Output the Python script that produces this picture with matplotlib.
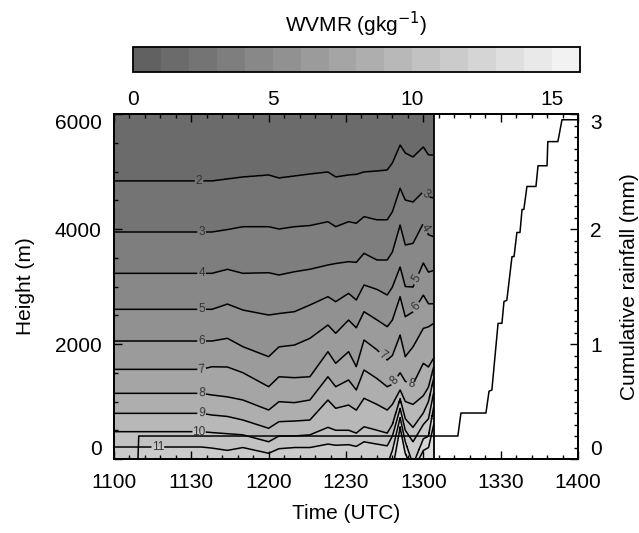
import numpy as np
import matplotlib
matplotlib.use('Agg')
import matplotlib.pyplot as plt
from matplotlib.colors import ListedColormap
from matplotlib.ticker import MultipleLocator

plt.rcParams['font.family'] = ['Liberation Sans', 'DejaVu Sans']
plt.rcParams['font.size'] = 15
plt.rcParams['axes.linewidth'] = 1.3

# time in minutes after 1100 UTC where contour heights were read
times = [0, 34, 38, 44, 50, 60, 64, 70, 76, 83, 86, 91, 94, 97, 102, 106, 108, 111, 113, 116, 120, 122, 124]

# height (m) of each WVMR isoline (g/kg)
lvl2 = [4835, 4835, 4835, 4870, 4904, 4939, 4887, 4921, 4956, 4991, 4904, 4939, 4950, 4991, 5008, 5026, 5147, 5460, 5321, 5252, 5426, 5287, 5287]
lvl3 = [3948, 3948, 3948, 3990, 4040, 4040, 4000, 4040, 4060, 4127, 4040, 4127, 4100, 4214, 4160, 4160, 4300, 4708, 4504, 4470, 4650, 4561, 4540]
lvl4 = [3229, 3229, 3229, 3299, 3229, 3240, 3200, 3257, 3300, 3374, 3400, 3431, 3420, 3577, 3461, 3461, 3600, 4069, 3722, 3751, 4099, 3900, 3866]
lvl5 = [2603, 2603, 2603, 2695, 2591, 2504, 2530, 2562, 2678, 2823, 2736, 2881, 2765, 3026, 2950, 2852, 2990, 3339, 3000, 2990, 3408, 3250, 3280]
lvl6 = [2052, 2052, 2052, 2099, 1953, 1779, 1950, 1982, 2099, 2330, 2186, 2417, 2283, 2562, 2420, 2301, 2417, 2823, 2475, 2560, 2850, 2700, 2700]
lvl7 = [1559, 1559, 1605, 1600, 1501, 1257, 1430, 1414, 1430, 1866, 1664, 1866, 1605, 2069, 1900, 1722, 1800, 2156, 1780, 1950, 2272, 2300, 2359]
lvl8 = [1142, 1142, 1113, 1080, 1026, 852, 997, 980, 1026, 1431, 1257, 1374, 1200, 1548, 1400, 1257, 1300, 1500, 1350, 1300, 1664, 1600, 1750]
lvl9 = [794, 794, 765, 740, 678, 534, 649, 660, 678, 1026, 882, 939, 850, 1056, 950, 852, 950, 1200, 1000, 950, 1100, 1250, 1600]
lvl10 = [475, 475, 460, 440, 420, 300, 400, 400, 420, 550, 500, 500, 450, 560, 500, 450, 600, 1050, 700, 550, 800, 1000, 1400]
lvl11 = [209, 209, 190, 150, 200, 100, 180, 200, 200, 260, 240, 250, 220, 300, 260, 230, 400, 880, 500, 300, 600, 700, 1150]
lvl12 = [-100, -100, -100, -100, -100, -100, -100, -100, -100, -100, -100, -100, -100, -100, -100, -100, 150, 720, 300, -100, 350, 400, 900]
lvl13 = [-200, -200, -200, -200, -200, -200, -200, -200, -200, -200, -200, -200, -200, -200, -200, -200, -200, 560, 100, -200, 150, 200, 600]
iso_levels = [2, 3, 4, 5, 6, 7, 8, 9, 10, 11, 12, 13]
wvmr_top = 1.2      # above the 2 g/kg line
wvmr_bottom = 14.0  # below the lowest line

# cumulative rainfall (mm)
rain_t = [0, 9.3, 9.6, 133.4, 134.6, 144.3, 145.5, 146.6, 149.0, 150.5, 151.3, 152.4, 154.4, 155.2,
          156.3, 157.5, 158.3, 159.0, 160.2, 163.7, 164.5, 168.0, 168.3, 172.2, 173.8, 180]
rain_mm = [0, 0, 0.2, 0.2, 0.4, 0.4, 0.59, 0.6, 1.18, 1.18, 1.37, 1.38, 1.76, 1.76,
           1.97, 1.97, 2.17, 2.17, 2.37, 2.37, 2.55, 2.55, 2.76, 2.76, 2.95, 2.95]

time_ticks = [0, 30, 60, 90, 120, 150, 180]
time_labels = ['1100', '1130', '1200', '1230', '1300', '1330', '1400']

# label positions (min, m) for the contour numbers
label_pos = [(33, 4835), (34, 3948), (34, 3229), (34, 2603), (34, 2052), (34, 1559),
             (34, 1142), (34, 794), (33, 475), (17, 209),
             (122.6, 4765), (122.6, 4104), (116.4, 3165), (117.2, 2643),
             (105.8, 1948), (107.8, 1425), (115.5, 1374)]

# build the WVMR field from the isoline heights
heights = np.array([lvl2, lvl3, lvl4, lvl5, lvl6, lvl7, lvl8, lvl9, lvl10, lvl11, lvl12, lvl13], dtype=float)
t_grid = np.linspace(times[0], times[-1], 621)
z_grid = np.linspace(0, 6000, 601)
field = np.zeros((len(z_grid), len(t_grid)))
for i, t in enumerate(t_grid):
    h = np.array([np.interp(t, times, row) for row in heights])
    zk = np.concatenate(([-400], h[::-1], [6500]))
    vk = np.concatenate(([wvmr_bottom], np.array(iso_levels[::-1], float), [wvmr_top]))
    field[:, i] = np.interp(z_grid, zk, vk)

grays = np.linspace(0.38, 0.95, 16)
cmap = ListedColormap([(g, g, g) for g in grays])

fig = plt.figure(figsize=(6.39, 5.33), dpi=100)
ax = fig.add_axes([0.1784, 0.1388, 0.7261, 0.6473])
cax = fig.add_axes([0.2081, 0.8649, 0.6995, 0.0469])

cf = ax.contourf(t_grid, z_grid, field, levels=np.arange(0, 17, 1), cmap=cmap, vmin=0, vmax=16)
cs = ax.contour(t_grid, z_grid, field, levels=iso_levels, colors='black', linewidths=1.1)
ax.clabel(cs, levels=iso_levels[:10], manual=label_pos, fontsize=8.5, fmt='%d',
          inline_spacing=3, colors='#333333')
ax.axvline(times[-1], color='black', linewidth=1.3)

ax.set_xlim(0, 180)
ax.set_ylim(0, 6000)
ax.set_xticks(time_ticks)
ax.set_xticklabels(time_labels)
ax.set_yticks([0, 2000, 4000, 6000])
ax.xaxis.set_minor_locator(MultipleLocator(6))
ax.yaxis.set_minor_locator(MultipleLocator(500))
ax.tick_params(which='both', direction='in', top=True, right=False)
ax.tick_params(which='major', length=6, width=1)
ax.tick_params(which='minor', length=3, width=1)
ax.tick_params(axis='x', pad=10)
ax.tick_params(axis='y', pad=9)
ax.set_xlabel('Time (UTC)', labelpad=9)
ax.set_ylabel('Height (m)', labelpad=14)

ax2 = ax.twinx()
ax2.plot(rain_t, rain_mm, color='black', linewidth=1.1)
ax2.set_ylim(0, 3)
ax2.set_yticks([0, 1, 2, 3])
ax2.yaxis.set_minor_locator(MultipleLocator(0.1))
ax2.tick_params(which='both', direction='in')
ax2.tick_params(which='major', length=6, width=1)
ax2.tick_params(which='minor', length=3, width=1)
ax2.tick_params(axis='y', pad=9)
ax2.set_ylabel('Cumulative rainfall (mm)', labelpad=13)

# IDL-style placement of the end labels on both height axes
for a in (ax, ax2):
    labs = a.get_yticklabels()
    labs[0].set_va('bottom')
    labs[-1].set_va('top')

cb = fig.colorbar(cf, cax=cax, orientation='horizontal')
cb.set_ticks([0, 5, 10, 15])
cb.ax.tick_params(length=0, pad=13)
cb.outline.set_linewidth(1.3)
cax.set_title('WVMR (gkg$^{-1}$)', fontsize=15, pad=11)

fig.savefig('out.png', dpi=100)
